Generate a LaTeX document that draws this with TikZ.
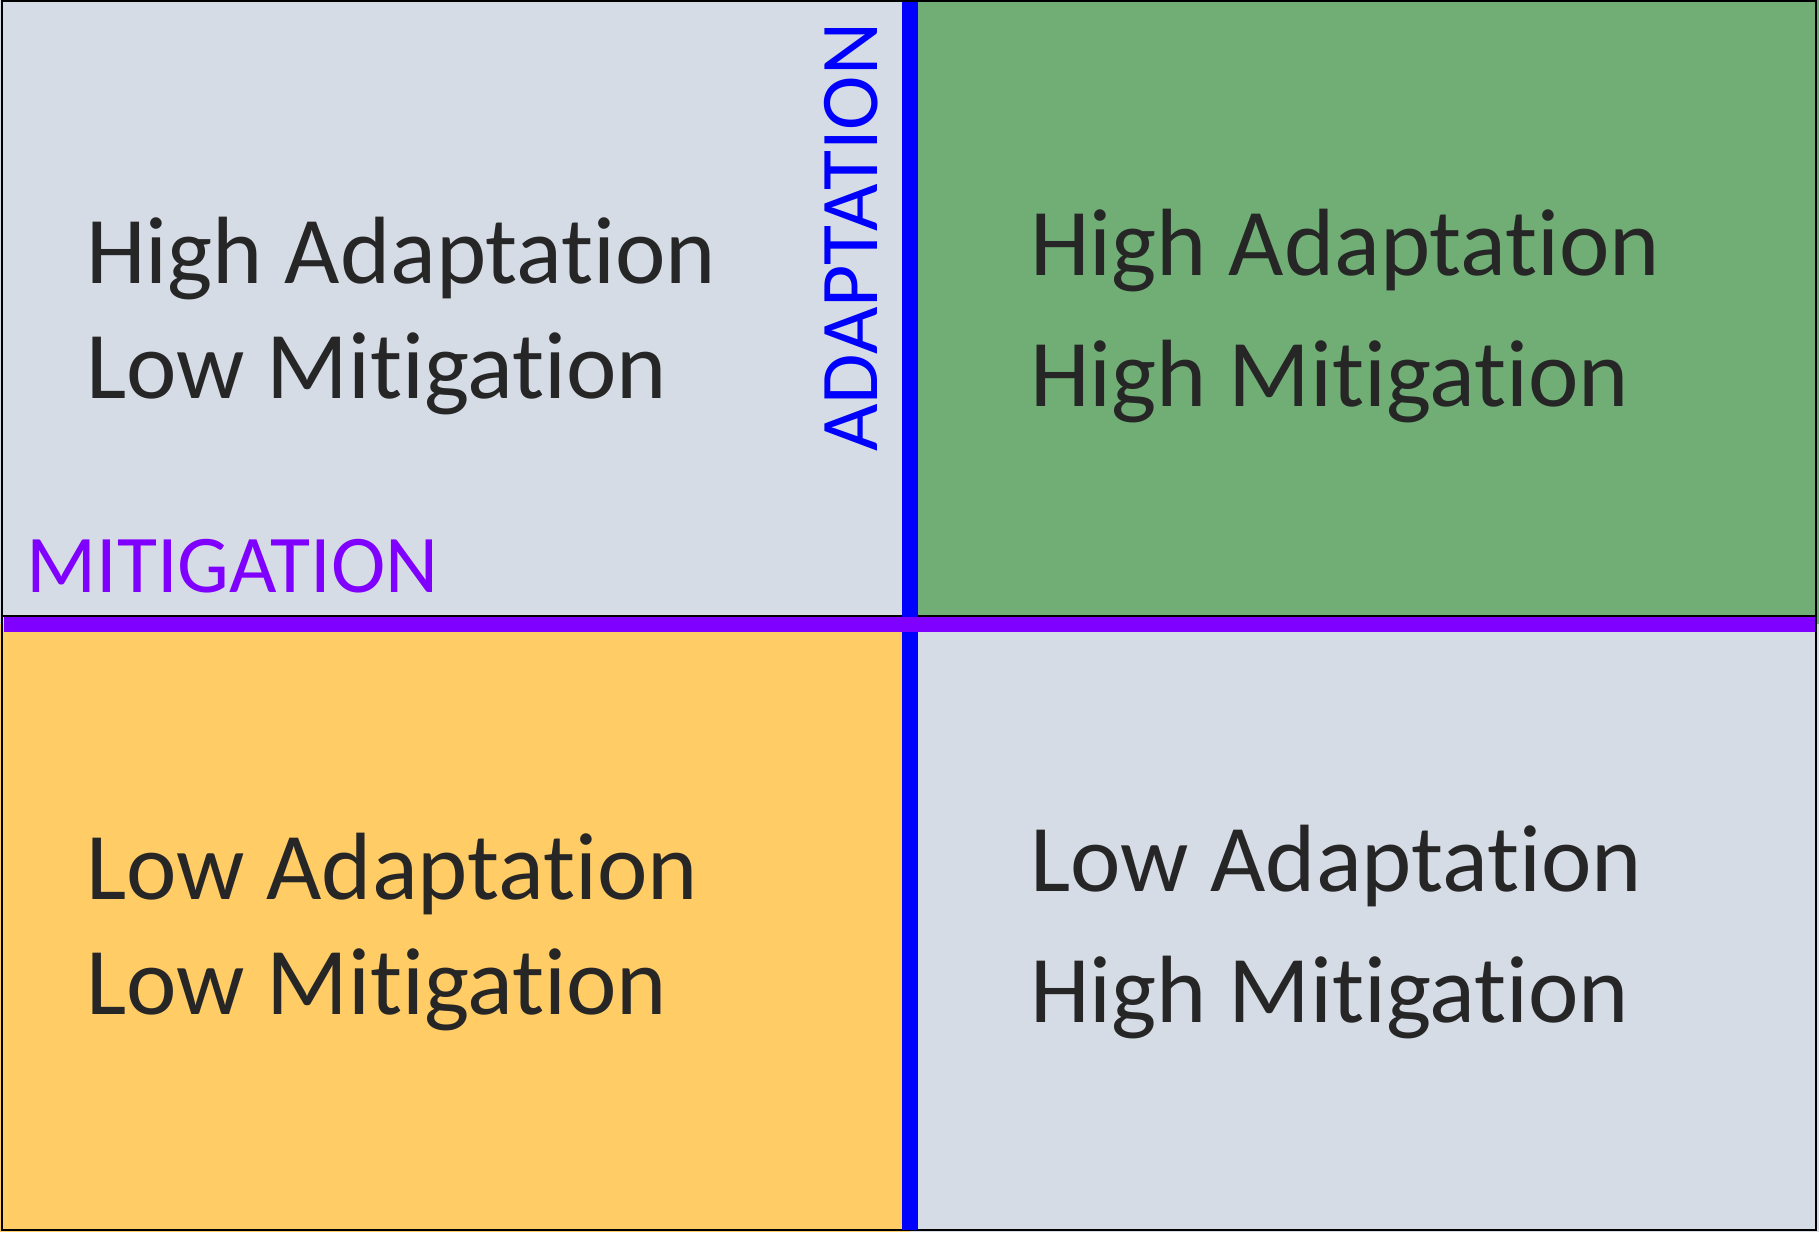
\documentclass[tikz,border=0pt]{standalone}
\usepackage{fontspec}
\setmainfont{Carlito}[Ligatures={NoCommon}]
\definecolor{qgray}{HTML}{D6DCE5}
\definecolor{qgreen}{HTML}{70AE75}
\definecolor{qorange}{HTML}{FFCC66}
\definecolor{qtext}{HTML}{262626}
\definecolor{mitcol}{HTML}{8000FF}
\definecolor{adacol}{HTML}{0000FF}
\begin{document}
\begin{tikzpicture}[x=0.5pt,y=-0.5pt,
  quad/.style={inner sep=0pt,anchor=base west,text=qtext,font=\fontsize{47.8}{57}\selectfont},
  axislabel/.style={inner sep=0pt,anchor=base west,font=\fontsize{41}{50}\selectfont}]
\useasboundingbox (0,0) rectangle (1819,1232);
% quadrant fills
\fill[qgray] (0,0) rectangle (910,624);
\fill[qgreen] (910,0) rectangle (1819,624);
\fill[qorange] (0,624) rectangle (910,1232);
\fill[qgray] (910,624) rectangle (1819,1232);
% outlines
\draw[black,line width=1.2pt] (2,1) rectangle (1816,1230);
\draw[black,line width=1pt] (2,616) -- (1816,616);
% texts
\node[quad] (tl1) at (86,283) {High Adaptation};
\node[quad] (tl2) at (86,398) {Low Mitigation};
\node[quad] (tr1) at (1030,275) {High Adaptation};
\node[quad] (tr2) at (1030,406) {High Mitigation};
\node[quad] (bl1) at (86,899) {Low Adaptation};
\node[quad] (bl2) at (86,1014) {Low Mitigation};
\node[quad] (br1) at (1030,891) {Low Adaptation};
\node[quad] (br2) at (1030,1022) {High Mitigation};
% axes
\coordinate (vtop) at (910,2);
\coordinate (vbot) at (910,1230);
\coordinate (hleft) at (4,624.5);
\coordinate (hright) at (1815,624.5);
\draw[adacol,line width=8pt] (vtop) -- (vbot);
\draw[mitcol,line width=7.5pt] (hleft) -- (hright);
\node[axislabel,text=mitcol] (mit) at (26,592) {MITIGATION};
\node[axislabel,text=adacol,rotate=90] (ada) at (877,452) {ADAPTATION};
\end{tikzpicture}
\end{document}
